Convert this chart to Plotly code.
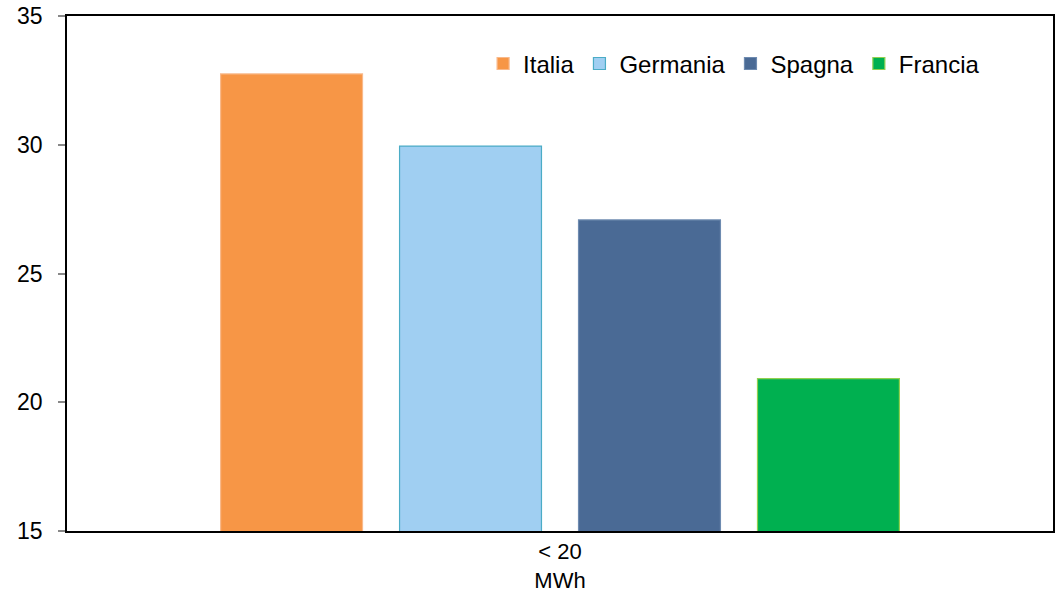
import plotly.graph_objects as go

categories = ["< 20<br>MWh"]
series_names = ["Italia", "Germania", "Spagna", "Francia"]
italia = [32.75]
germania = [29.95]
spagna = [27.08]
francia = [20.92]
y_ticks = [15, 20, 25, 30, 35]

values = [italia, germania, spagna, francia]
fills = ["#F79646", "#A0CFF2", "#4A6A95", "#00B050"]
edges = ["#F9B98A", "#4BACC6", "#6E8BB0", "#92D050"]

fig = go.Figure()
for name, vals, fc, ec in zip(series_names, values, fills, edges):
    fig.add_trace(go.Bar(
        x=categories, y=vals, name=name,
        marker=dict(color=fc, line=dict(color=ec, width=1.2)),
    ))

fig.update_layout(
    width=1061, height=597,
    margin=dict(l=67, r=8, t=16, b=66),
    paper_bgcolor="white", plot_bgcolor="white",
    barmode="group", bargap=0.274, bargroupgap=0.207,
    font=dict(family="Liberation Sans, Arial", size=22, color="#000000"),
    showlegend=True,
    legend=dict(orientation="h", x=0.422, xanchor="left", y=0.907, yanchor="middle",
                bgcolor="rgba(0,0,0,0)", font=dict(size=24), itemwidth=30,
                tracegroupgap=0),
)
fig.update_yaxes(range=[15, 35], tickvals=y_ticks, showgrid=False, zeroline=False,
                 showline=True, linecolor="#000000", linewidth=1.5, mirror=True,
                 ticks="outside", ticklen=7, tickcolor="#888888", tickwidth=1.5,
                 ticklabelstandoff=11, tickfont=dict(size=23), automargin=False)
fig.update_xaxes(showgrid=False, showline=True, linecolor="#000000", linewidth=2,
                 mirror=True, ticks="", ticklabelstandoff=0, tickfont=dict(size=22),
                 automargin=False)

fig.write_html("out.html")
